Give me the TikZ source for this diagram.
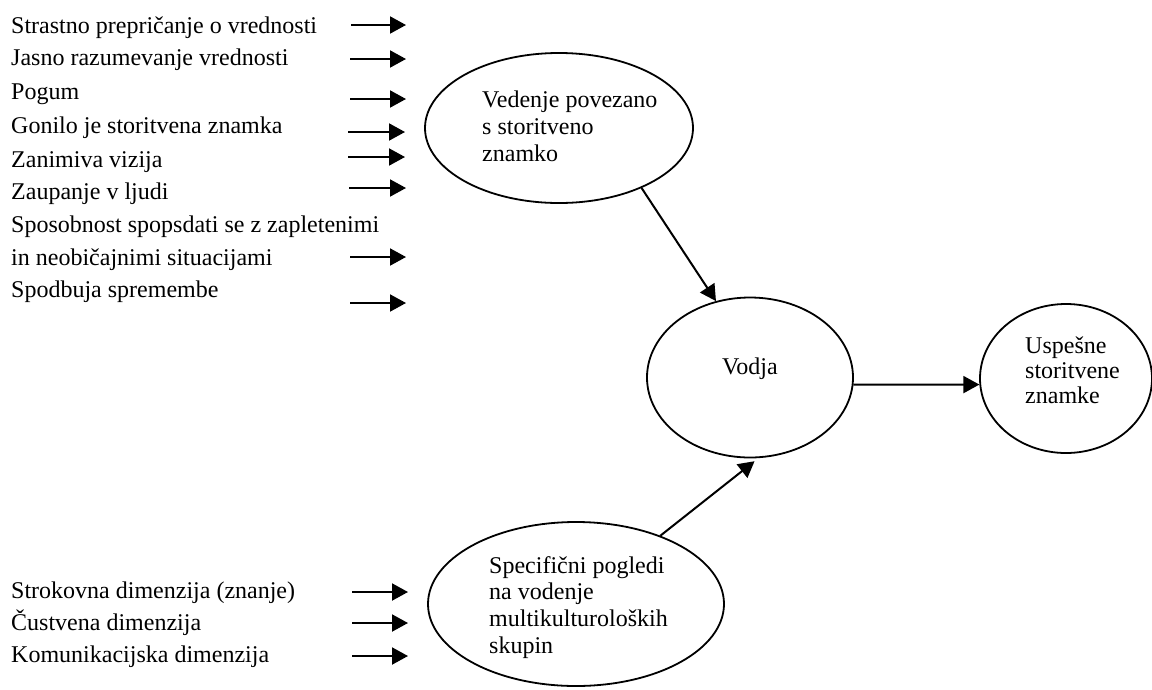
\documentclass[tikz,border=0pt]{standalone}
\usepackage{fontspec}
\setmainfont{Liberation Serif}
\usetikzlibrary{arrows.meta,shapes.geometric}
\begin{document}
\begin{tikzpicture}[x=1pt,y=1pt,
  txt/.style={anchor=base west, inner sep=0pt, font=\fontsize{24}{28}\selectfont},
  oval/.style={ellipse, draw, line width=1.8pt, inner sep=0pt},
  link/.style={line width=2pt, -{Triangle[length=16pt,width=17pt]}}]
\useasboundingbox (0,0) rectangle (1152,-689);

% ovals
\node[oval, minimum width=268pt, minimum height=150pt] (ved)   at (559,-128)   {};
\node[oval, minimum width=206pt, minimum height=160pt] (vodja) at (750,-377.5) {};
\node[oval, minimum width=172pt, minimum height=149pt] (usp)   at (1066,-378.5) {};
\node[oval, minimum width=296pt, minimum height=164pt] (spec)  at (576,-604)   {};

% oval captions
\foreach \t [count=\i] in {Vedenje povezano, s storitveno, znamko}
  \node[txt] (ved-t\i) at (482,{-107-27.3*(\i-1)}) {\t};
\node[txt, anchor=base] (vodja-t) at (750,-374) {Vodja};
\foreach \t [count=\i] in {Uspešne, storitvene, znamke}
  \node[txt] (usp-t\i) at (1025,{-353-25*(\i-1)}) {\t};
\foreach \t [count=\i] in {Specifični pogledi, na vodenje, multikulturoloških, skupin}
  \node[txt] (spec-t\i) at (489,{-573-26.7*(\i-1)}) {\t};

% attribute lists
\foreach \t/\y [count=\i] in {Strastno prepričanje o vrednosti/33,
    Jasno razumevanje vrednosti/65, Pogum/99, Gonilo je storitvena znamka/133,
    Zanimiva vizija/167, Zaupanje v ljudi/199,
    Sposobnost spopsdati se z zapletenimi/232, in neobičajnimi situacijami/265,
    Spodbuja spremembe/297,
    Strokovna dimenzija (znanje)/598, Čustvena dimenzija/630,
    Komunikacijska dimenzija/662}
  \node[txt] (attr\i) at (11,-\y) {\t};

% short input arrows
\foreach \y/\a/\b [count=\i] in {25/351/406, 59/350/406, 99/350/406, 132/348/405,
    157/348/405, 188/349/406, 257/350/406, 303/350/406,
    592/352/408, 623/352/408, 656/352/408} {
  \coordinate (in-s\i) at (\a,-\y);
  \coordinate (in-e\i) at (\b,-\y);
  \draw[link] (in-s\i) -- (in-e\i);
}

% connectors between ovals
\draw[link] (ved.-36) -- (vodja.114);
\draw[link] (vodja.-4) -- (usp.184);
\draw[link, shorten >=5pt] (spec.39) -- (vodja.-84);
\end{tikzpicture}
\end{document}
